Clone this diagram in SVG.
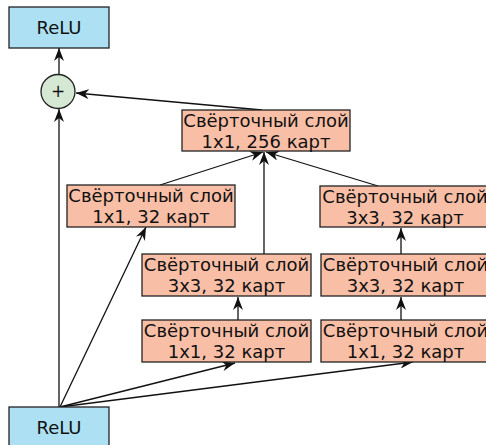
<svg xmlns="http://www.w3.org/2000/svg" width="486" height="445" viewBox="0 0 486 445">
<style>
.relu{fill:#aee0f4;stroke:#222;stroke-width:1.3}
.conv{fill:#f9bfa6;stroke:#222;stroke-width:1.3}
.sum{fill:#d5e8d4;stroke:#222;stroke-width:1.3}
text{font-family:"DejaVu Sans",Verdana,sans-serif;font-size:18px;fill:#111;text-anchor:middle}
.edge{stroke:#111;stroke-width:1.3;fill:none;marker-end:url(#ah)}
</style>
<defs>
<marker id="ah" viewBox="0 0 13 10" refX="13" refY="5" markerWidth="13" markerHeight="10" markerUnits="userSpaceOnUse" orient="auto">
<path d="M0,0 L13,5 L0,10 L4,5 Z" fill="#111"/>
</marker>
</defs>
<rect width="486" height="445" fill="#fff"/>
<g id="connectors">
<line class="edge" x1="59" y1="407" x2="59" y2="109"/>
<line class="edge" x1="59" y1="74" x2="59" y2="48"/>
<line class="edge" x1="262" y1="110" x2="76" y2="93"/>
<line class="edge" x1="160" y1="185" x2="263" y2="152"/>
<line class="edge" x1="264" y1="254" x2="264" y2="152"/>
<line class="edge" x1="378" y1="186" x2="266" y2="152"/>
<line class="edge" x1="401" y1="254" x2="401" y2="228"/>
<line class="edge" x1="401" y1="320" x2="401" y2="297"/>
<line class="edge" x1="238" y1="320" x2="238" y2="297"/>
<line class="edge" x1="60" y1="407" x2="146" y2="227"/>
<line class="edge" x1="60" y1="407" x2="235" y2="363"/>
<line class="edge" x1="60" y1="407" x2="413" y2="362"/>
</g>
<g id="relu_out">
<rect class="relu" x="9" y="7" width="100" height="41"/>
<text x="59" y="34">ReLU</text>
</g>
<g id="sum">
<circle class="sum" cx="58" cy="91.5" r="17"/>
<text x="58" y="97" style="font-size:17px">+</text>
</g>
<g id="conv256">
<rect class="conv" x="182" y="110" width="168" height="41"/>
<text x="266" y="127">Свёрточный слой</text>
<text x="266" y="148">1x1, 256 карт</text>
</g>
<g id="convA1">
<rect class="conv" x="67" y="185" width="168" height="42"/>
<text x="151" y="202">Свёрточный слой</text>
<text x="151" y="223">1x1, 32 карт</text>
</g>
<g id="convC3b">
<rect class="conv" x="320" y="186" width="169" height="41"/>
<text x="405" y="203">Свёрточный слой</text>
<text x="405" y="224">3x3, 32 карт</text>
</g>
<g id="convB3">
<rect class="conv" x="142" y="254" width="169" height="42"/>
<text x="226.5" y="271">Свёрточный слой</text>
<text x="226.5" y="292">3x3, 32 карт</text>
</g>
<g id="convC3a">
<rect class="conv" x="321" y="254" width="169" height="42"/>
<text x="405.5" y="271">Свёрточный слой</text>
<text x="405.5" y="292">3x3, 32 карт</text>
</g>
<g id="convB1">
<rect class="conv" x="142" y="320" width="169" height="42"/>
<text x="226.5" y="337">Свёрточный слой</text>
<text x="226.5" y="358">1x1, 32 карт</text>
</g>
<g id="convC1">
<rect class="conv" x="321" y="320" width="169" height="42"/>
<text x="405.5" y="337">Свёрточный слой</text>
<text x="405.5" y="358">1x1, 32 карт</text>
</g>
<g id="relu_in">
<rect class="relu" x="9" y="407" width="100" height="45"/>
<text x="59" y="434">ReLU</text>
</g>
</svg>
